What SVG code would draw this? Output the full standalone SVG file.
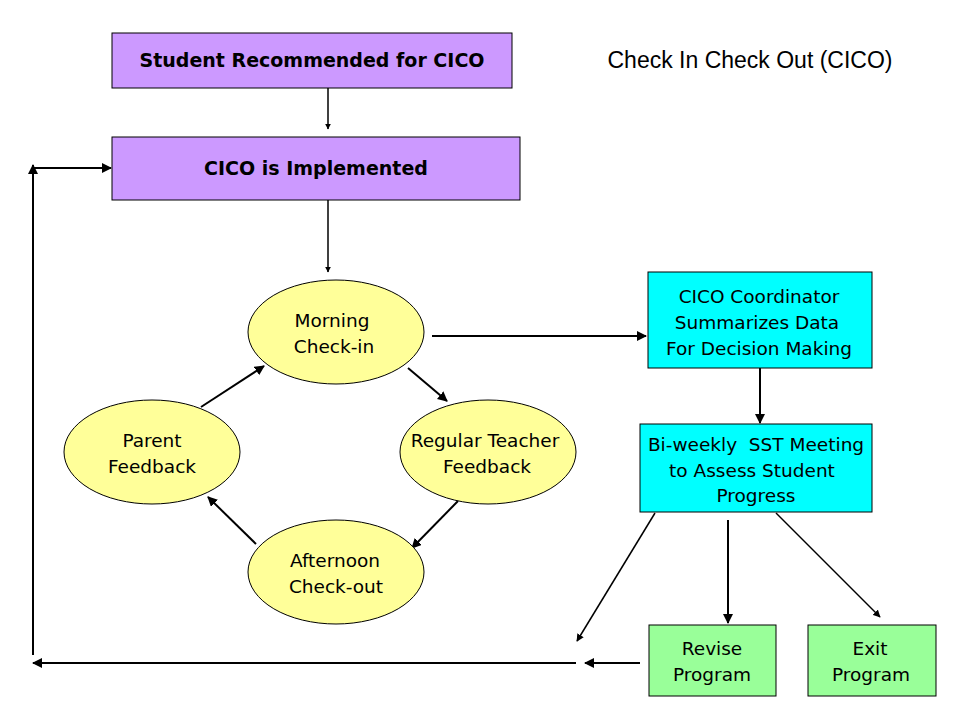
<svg xmlns="http://www.w3.org/2000/svg" width="960" height="720" viewBox="0 0 960 720">
<style>
.box{stroke:#000;stroke-width:1}
.lav{fill:#cc99ff}
.cy{fill:#00ffff}
.gr{fill:#99ff99}
.ell{fill:#ffff99;stroke:#000;stroke-width:1}
.b{font-family:"DejaVu Sans",Verdana,sans-serif;font-weight:bold;font-size:19px;text-anchor:middle}
.t{font-family:"DejaVu Sans",Tahoma,sans-serif;font-size:18.5px;text-anchor:middle}
.c{stroke:#000;stroke-width:2;fill:none}
.c1{stroke:#000;stroke-width:1.5;fill:none}
</style>
<defs>
<marker id="ah" viewBox="0 0 10 10" refX="9" refY="5" markerWidth="5" markerHeight="5" orient="auto" markerUnits="strokeWidth">
<path d="M0,0 L10,5 L0,10 z" fill="#000"/>
</marker>
<marker id="ahs" viewBox="0 0 10 10" refX="9" refY="5" markerWidth="4" markerHeight="4" orient="auto" markerUnits="strokeWidth">
<path d="M0,0 L10,5 L0,10 z" fill="#000"/>
</marker>
</defs>
<rect width="960" height="720" fill="#fff"/>
<text x="750" y="68" font-family="Liberation Sans,Arial,sans-serif" font-size="23" text-anchor="middle">Check In Check Out (CICO)</text>
<g id="connectors">
<line class="c1" x1="328" y1="88" x2="328" y2="129" marker-end="url(#ahs)"/>
<line class="c1" x1="328" y1="200" x2="328" y2="272" marker-end="url(#ahs)"/>
<line class="c" x1="432" y1="336" x2="646" y2="336" marker-end="url(#ah)"/>
<line class="c" x1="408" y1="368" x2="447" y2="401" marker-end="url(#ah)"/>
<line class="c" x1="458" y1="501" x2="412" y2="548" marker-end="url(#ah)"/>
<line class="c" x1="256" y1="544" x2="208" y2="497" marker-end="url(#ah)"/>
<line class="c" x1="201" y1="407" x2="264" y2="366" marker-end="url(#ah)"/>
<line class="c" x1="760" y1="368" x2="760" y2="423" marker-end="url(#ah)"/>
<line class="c1" x1="655" y1="513" x2="577" y2="641" marker-end="url(#ah)"/>
<line class="c" x1="728" y1="520" x2="728" y2="623" marker-end="url(#ah)"/>
<line class="c1" x1="776" y1="513" x2="880" y2="617" marker-end="url(#ah)"/>
<line class="c" x1="640" y1="663" x2="585" y2="663" marker-end="url(#ah)"/>
<line class="c" x1="576" y1="663" x2="33" y2="663" marker-end="url(#ah)"/>
<line class="c" x1="33" y1="655" x2="33" y2="165" marker-end="url(#ah)"/>
<line class="c" x1="33" y1="168" x2="111" y2="168" marker-end="url(#ah)"/>
</g>
<g id="n1"><rect class="box lav" x="112" y="33" width="400" height="55"/><text class="b" x="312" y="67">Student Recommended for CICO</text></g>
<g id="n2"><rect class="box lav" x="112" y="137" width="408" height="63"/><text class="b" x="316" y="175">CICO is Implemented</text></g>
<g id="morning"><ellipse class="ell" cx="336" cy="332" rx="88" ry="52"/><text class="t" x="332" y="327">Morning</text><text class="t" x="334" y="353">Check-in</text></g>
<g id="parent"><ellipse class="ell" cx="152" cy="452" rx="88" ry="52"/><text class="t" x="152" y="447">Parent</text><text class="t" x="152" y="473">Feedback</text></g>
<g id="teacher"><ellipse class="ell" cx="488" cy="452" rx="88" ry="52"/><text class="t" x="485" y="447">Regular Teacher</text><text class="t" x="487" y="473">Feedback</text></g>
<g id="afternoon"><ellipse class="ell" cx="336" cy="572" rx="88" ry="52"/><text class="t" x="335" y="567">Afternoon</text><text class="t" x="336" y="593">Check-out</text></g>
<g id="coord"><rect class="box cy" x="648" y="272" width="224" height="96"/><text class="t" x="759" y="303">CICO Coordinator</text><text class="t" x="757" y="329">Summarizes Data</text><text class="t" x="759" y="355">For Decision Making</text></g>
<g id="sst"><rect class="box cy" x="640" y="424" width="232" height="88"/><text class="t" x="756" y="451" xml:space="preserve">Bi-weekly  SST Meeting</text><text class="t" x="752" y="477">to Assess Student</text><text class="t" x="756" y="502">Progress</text></g>
<g id="revise"><rect class="box gr" x="649" y="625" width="127" height="71"/><text class="t" x="712" y="655">Revise</text><text class="t" x="712" y="681">Program</text></g>
<g id="exit"><rect class="box gr" x="808" y="625" width="128" height="71"/><text class="t" x="870" y="655">Exit</text><text class="t" x="871" y="681">Program</text></g>
</svg>
